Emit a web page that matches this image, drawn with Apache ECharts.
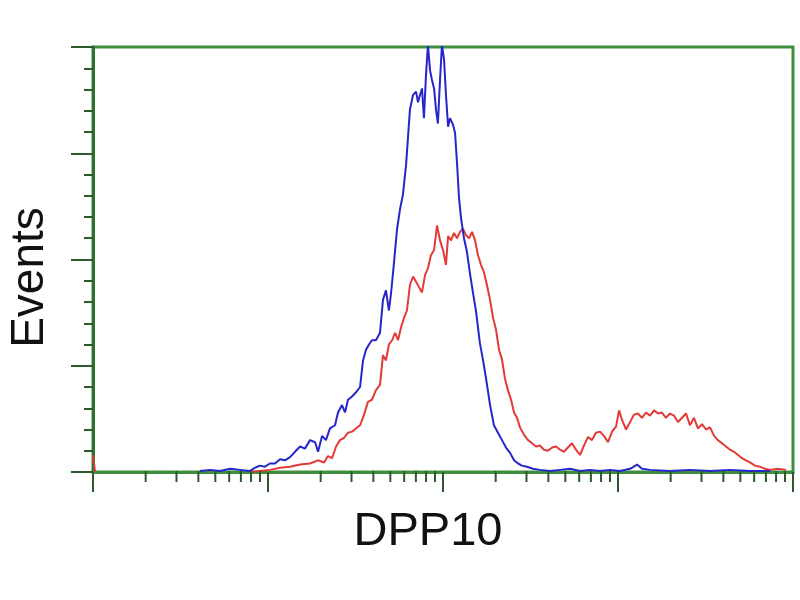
<!DOCTYPE html>
<html>
<head>
<meta charset="utf-8">
<script src="https://cdn.jsdelivr.net/npm/echarts@6/dist/echarts.min.js"></script>
<style>html,body{margin:0;padding:0;background:#fff}#c{width:800px;height:600px}</style>
</head>
<body>
<div id="c"></div>
<script>
// Fluorescence intensity in decades (log10), and event counts
const blueLog = [0.611,0.669,0.726,0.783,0.840,0.897,0.926,0.954,0.983,1.011,1.040,1.069,1.097,1.126,1.154,1.183,1.211,1.240,1.269,1.286,1.309,1.331,1.354,1.383,1.400,1.423,1.440,1.457,1.480,1.503,1.526,1.543,1.560,1.577,1.594,1.617,1.640,1.657,1.674,1.691,1.703,1.720,1.737,1.754,1.771,1.789,1.800,1.811,1.829,1.846,1.857,1.869,1.880,1.891,1.903,1.914,1.926,1.937,1.949,1.960,1.971,1.983,1.994,2.006,2.017,2.029,2.040,2.057,2.069,2.080,2.091,2.103,2.120,2.137,2.154,2.171,2.189,2.211,2.229,2.246,2.269,2.291,2.314,2.337,2.360,2.383,2.406,2.429,2.451,2.480,2.514,2.554,2.611,2.669,2.726,2.783,2.840,2.897,2.954,3.011,3.069,3.109,3.137,3.183,3.297,3.411,3.526,3.640,3.754,3.869];
const blueEvents = [1,2,1,3,2,1,4,6,5,8,8,12,11,14,19,24,22,30,28,19,34,30,41,44,56,63,56,68,71,75,80,105,115,120,124,124,131,162,171,152,168,197,228,247,261,289,315,341,355,358,348,355,361,333,374,402,378,369,361,341,328,369,402,388,355,325,333,327,319,291,259,239,220,207,187,169,151,121,105,88,63,44,37,30,23,18,11,8,6,5,3,2,1,2,3,1,2,1,2,1,3,7,3,2,1,2,1,2,1,1];
const redLog = [0.000,0.012,0.450,0.897,0.954,1.011,1.069,1.126,1.183,1.240,1.286,1.320,1.343,1.366,1.389,1.411,1.434,1.457,1.480,1.503,1.526,1.549,1.571,1.594,1.617,1.640,1.657,1.674,1.691,1.709,1.726,1.743,1.760,1.777,1.794,1.811,1.829,1.846,1.863,1.880,1.897,1.914,1.931,1.949,1.966,1.983,2.000,2.017,2.029,2.046,2.063,2.080,2.097,2.114,2.131,2.149,2.166,2.183,2.200,2.217,2.234,2.251,2.269,2.286,2.303,2.320,2.337,2.354,2.371,2.389,2.406,2.423,2.440,2.463,2.486,2.509,2.531,2.554,2.577,2.600,2.623,2.646,2.669,2.691,2.714,2.737,2.760,2.783,2.806,2.829,2.851,2.874,2.897,2.920,2.943,2.966,2.989,3.006,3.023,3.046,3.069,3.091,3.114,3.137,3.160,3.183,3.206,3.229,3.251,3.274,3.297,3.320,3.343,3.366,3.389,3.411,3.434,3.457,3.480,3.503,3.526,3.549,3.571,3.594,3.617,3.640,3.663,3.686,3.709,3.731,3.754,3.783,3.811,3.840,3.869,3.914,3.960];
const redEvents = [16,0,null,0,1,2,4,5,7,8,11,9,15,13,24,30,32,37,38,41,44,54,66,68,77,82,110,105,120,124,131,124,136,145,152,176,184,179,174,169,185,192,204,209,232,218,209,195,222,218,225,220,226,229,223,220,226,218,204,195,188,176,162,145,134,115,106,88,77,68,56,51,42,35,30,27,24,25,21,20,23,24,21,19,23,27,21,16,25,33,30,37,38,34,28,38,43,58,49,40,47,54,55,51,56,53,58,55,56,51,55,53,47,51,55,44,51,41,45,40,42,34,30,27,24,21,19,16,13,11,9,6,5,3,2,3,2];
const decadeTicks = [0,1,2,3,4];
const minorMultipliers = [2,3,4,5,6,7,8,9];
const yMax = 400, yInterval = 100;

const xName = 'DPP10';
const yName = 'Events';

const minorX = [];
decadeTicks.slice(0,-1).forEach(function(n){ minorMultipliers.forEach(function(k){ minorX.push(n + Math.log10(k)); }); });

const zip = (a,b) => a.map((v,i)=>[v,b[i]]);
const green = '#3f8f3f', tickCol = '#2c5a2c';

const chart = echarts.init(document.getElementById('c'));
chart.setOption({
  animation: false,
  backgroundColor: '#ffffff',
  grid: { left: 93, right: 7, top: 47, bottom: 128, show: true, borderColor: green, borderWidth: 3, outerBoundsMode: 'none', containLabel: false },
  xAxis: {
    type: 'value', min: 0, max: 4, interval: 1,
    name: xName, nameLocation: 'middle', nameGap: 37,
    nameTextStyle: { fontFamily: 'Liberation Sans, Arial', fontSize: 47, color: '#111', padding: [0, 30, 0, 0] },
    axisLine: { show: true, onZero: false, lineStyle: { color: green, width: 3 } },
    axisTick: { show: true, length: 20, lineStyle: { color: tickCol, width: 2 } },
    axisLabel: { show: false },
    splitLine: { show: false }
  },
  yAxis: {
    type: 'value', min: 0, max: yMax, interval: yInterval,
    name: yName, nameLocation: 'middle', nameGap: 40,
    nameTextStyle: { fontFamily: 'Liberation Sans, Arial', fontSize: 46, color: '#111', padding: [0, 36, 0, 0] },
    axisLine: { show: true, lineStyle: { color: '#2f6f2f', width: 3 } },
    axisTick: { show: true, length: 22, lineStyle: { color: tickCol, width: 2 } },
    minorTick: { show: true, splitNumber: 5, length: 9, lineStyle: { color: tickCol, width: 2 } },
    axisLabel: { show: false },
    splitLine: { show: false }
  },
  series: [
    {
      type: 'line', name: 'control', data: zip(blueLog, blueEvents), showSymbol: false, symbol: 'none',
      lineStyle: { color: '#2626cc', width: 2 }, z: 3
    },
    {
      type: 'line', name: 'DPP10', data: zip(redLog, redEvents), showSymbol: false, symbol: 'none', connectNulls: false,
      lineStyle: { color: '#e23a36', width: 2 }, z: 2
    },
    {
      type: 'custom', clip: false, silent: true, z: 5,
      data: minorX.map(v => [v, 0]),
      renderItem: function(params, api){
        const p = api.coord([api.value(0), 0]);
        return { type: 'line', shape: { x1: p[0], y1: p[1] - 1, x2: p[0], y2: p[1] + 10 }, style: { stroke: tickCol, lineWidth: 2 } };
      }
    }
  ]
});
</script>
</body>
</html>
